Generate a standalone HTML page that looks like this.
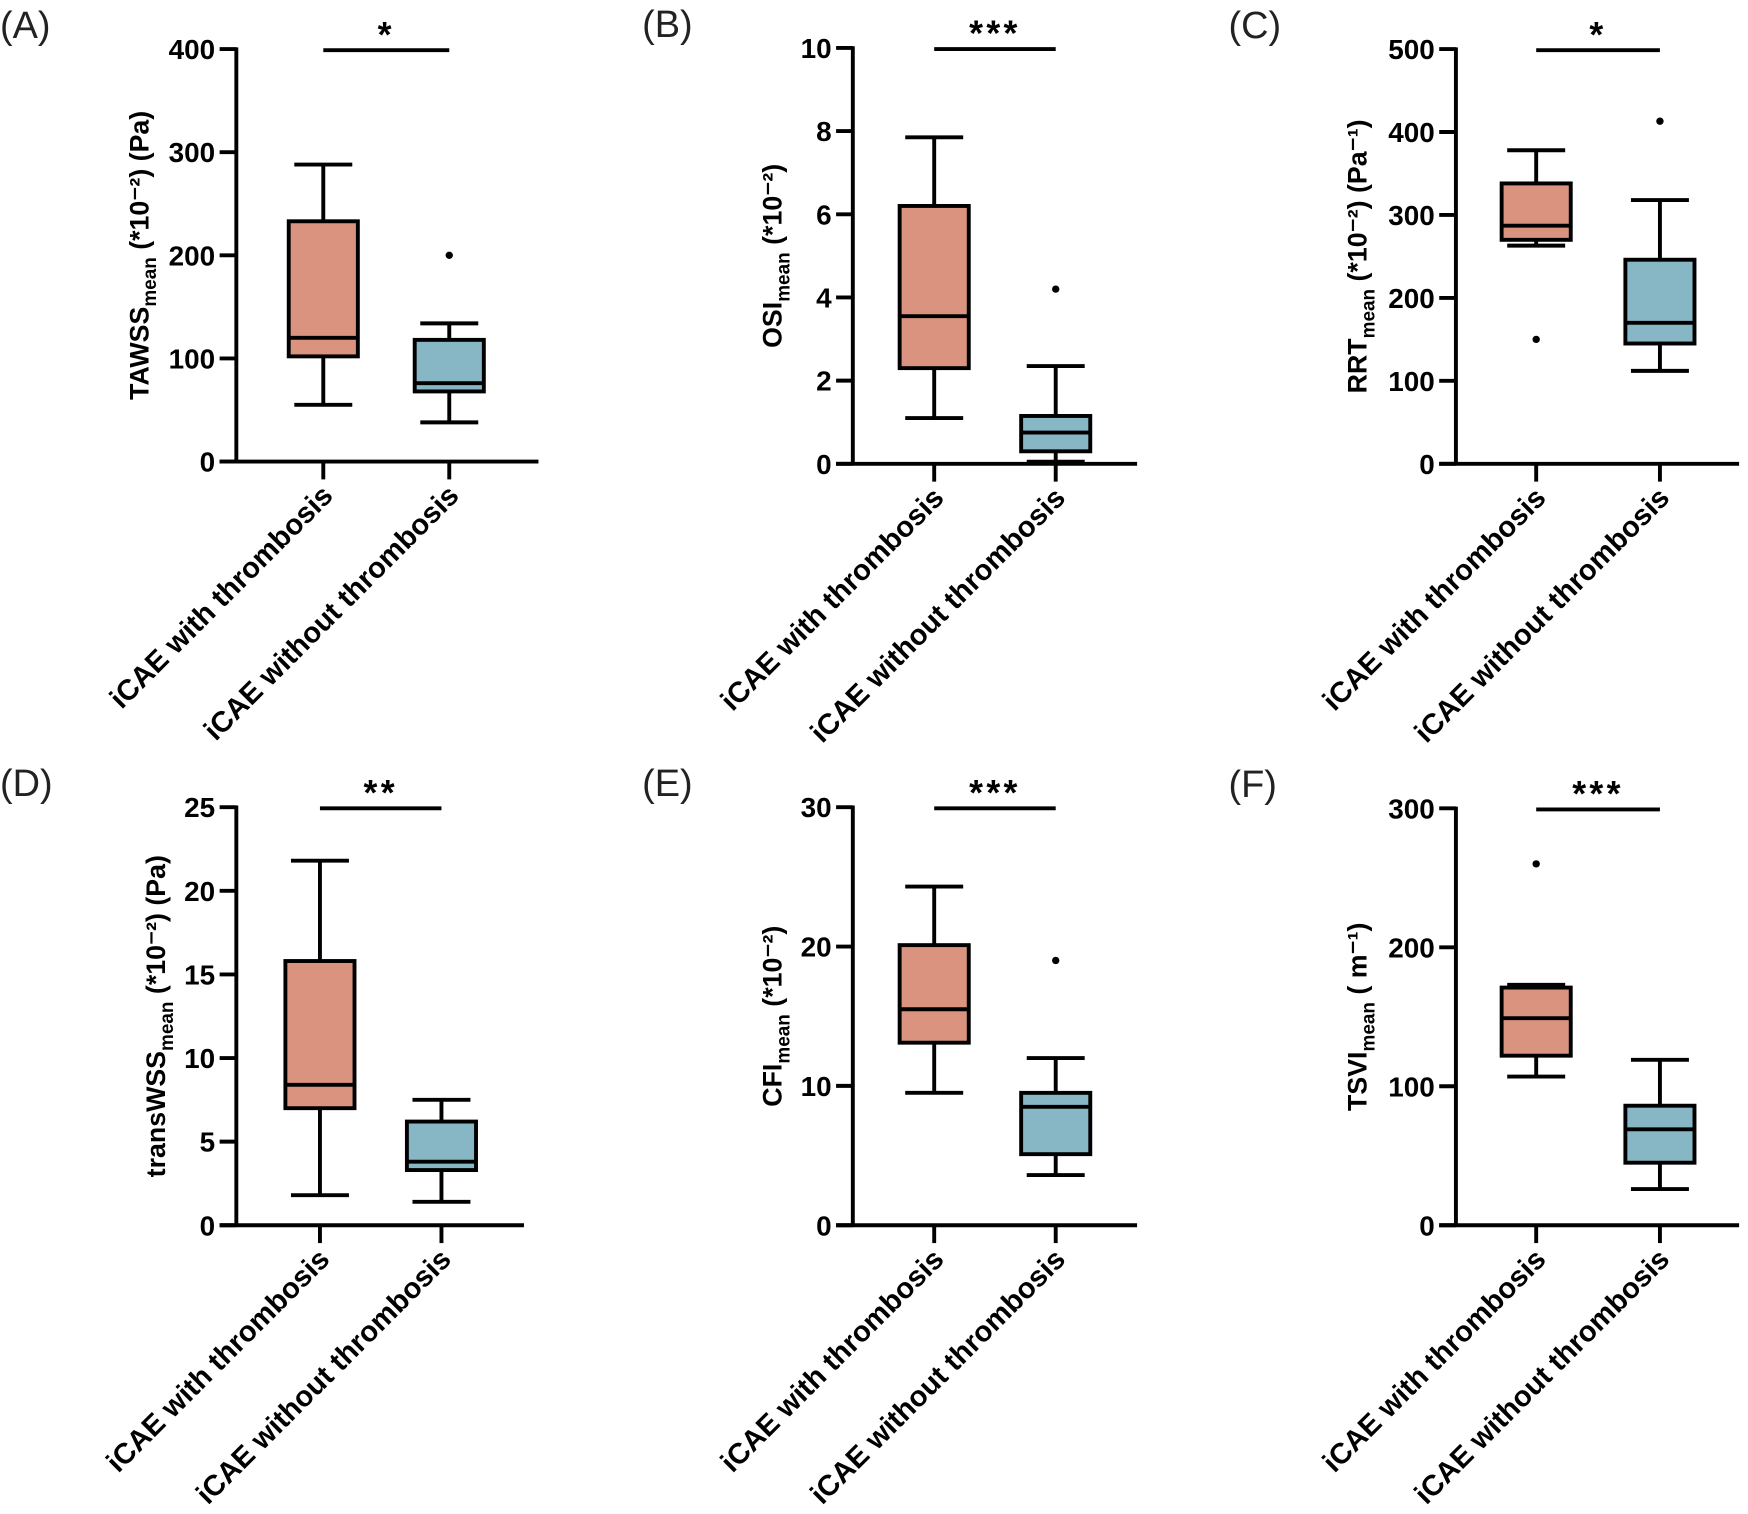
<!DOCTYPE html>
<html><head><meta charset="utf-8">
<style>
html,body{margin:0;padding:0;background:#fff;}
svg{display:block;}
text{font-family:"Liberation Sans",Arial,sans-serif;}
</style></head>
<body>
<svg id="fig" width="1748" height="1514" viewBox="0 0 1568 1358" preserveAspectRatio="none" xmlns="http://www.w3.org/2000/svg"></svg>
<script>
// ---- data ----
const categories = ["iCAE with thrombosis", "iCAE without thrombosis"];
const panelLetters = ["(A)","(B)","(C)","(D)","(E)","(F)"];
const yMax = [400, 10, 500, 25, 30, 300];
const yTicks = [[0,100,200,300,400],[0,2,4,6,8,10],[0,100,200,300,400,500],[0,5,10,15,20,25],[0,10,20,30],[0,100,200,300]];
const sigLabels = ["*","***","*","**","***","***"];
// [whiskerLow, q1, median, q3, whiskerHigh]
const withThrombosis = [[55,102,120,233,288],[1.1,2.3,3.55,6.2,7.85],[263,270,287,338,378],[1.8,7,8.4,15.8,21.8],[9.5,13.1,15.5,20.1,24.3],[107,122,149,171,173]];
const withoutThrombosis = [[38,68,76,118,134],[0.05,0.3,0.75,1.15,2.35],[112,145,170,246,318],[1.4,3.3,3.8,6.2,7.5],[3.6,5.1,8.5,9.5,12],[26,45,69,86,119]];
const outliersWith = [[],[],[150],[],[],[260]];
const outliersWithout = [[200],[4.2],[413],[],[19],[]];
const yLabelMain = ["TAWSS","OSI","RRT","transWSS","CFI","TSVI"];
const yLabelUnit = ["(*10⁻²) (Pa)","(*10⁻²)","(*10⁻²) (Pa⁻¹)","(*10⁻²) (Pa)","(*10⁻²)","( m⁻¹)"];

// ---- layout ----
const layout = [
 {ax:212, top:44, bot:414, xe:483, c:[290,403], lx:0, ylx:125},
 {ax:765, top:43, bot:416, xe:1020, c:[838,947], lx:576, ylx:693},
 {ax:1306, top:44, bot:416, xe:1560, c:[1378,1489], lx:1102, ylx:1218},
 {ax:212, top:724, bot:1099, xe:470, c:[287,396], lx:0, ylx:140},
 {ax:765, top:724, bot:1099, xe:1020, c:[838,947], lx:576, ylx:693},
 {ax:1306, top:725, bot:1099, xe:1560, c:[1378,1489], lx:1102, ylx:1218}
];
const svg = document.getElementById('fig');
const NS = "http://www.w3.org/2000/svg";
function mk(tag, attrs, parent){const e=document.createElementNS(NS,tag);for(const k in attrs)e.setAttribute(k,attrs[k]);(parent||svg).appendChild(e);return e;}
const colors = ["#D9937F","#87B6C5"];
const bw = 62;
const SW = 3.5;

for(let p=0;p<6;p++){
  const L = layout[p];
  const g = mk('g',{});
  
  
  const y = v => L.bot - (v/yMax[p])*(L.bot-L.top);
  const pl = mk('text',{x:L.lx, y:L.top-10, 'font-size':34, fill:'#222'}, g);
  pl.textContent = panelLetters[p];
  
  
  const ya = mk('line',{x1:L.ax,y1:L.top-1.5,x2:L.ax,y2:L.bot+1.5,stroke:'#000','stroke-width':SW}, g);
  
  
  const xa = mk('line',{x1:L.ax-15,y1:L.bot,x2:L.xe,y2:L.bot,stroke:'#000','stroke-width':SW}, g);
  
  
  yTicks[p].forEach(t=>{
    mk('line',{x1:L.ax-15,y1:y(t),x2:L.ax,y2:y(t),stroke:'#000','stroke-width':SW}, g);
    const tl = mk('text',{x:L.ax-19,y:y(t)+9,'font-size':25,'font-weight':'bold','text-anchor':'end'}, g);
    tl.textContent = t;
    
    
  });
  const yl = mk('text',{transform:`translate(${L.ylx+8},${(L.top+L.bot)/2}) rotate(-90)`,'font-size':24,'font-weight':'bold','text-anchor':'middle'}, g);
  
  
  const s1 = mk('tspan',{}, yl); s1.textContent = yLabelMain[p];
  const s2 = mk('tspan',{'font-size':17,dy:7}, yl); s2.textContent = 'mean';
  const s3 = mk('tspan',{dy:-7}, yl); s3.textContent = ' '+yLabelUnit[p];
  const sets = [withThrombosis[p], withoutThrombosis[p]];
  const outs = [outliersWith[p], outliersWithout[p]];
  for(let i=0;i<2;i++){
    const cx = L.c[i], d = sets[i];
    mk('line',{x1:cx,y1:L.bot,x2:cx,y2:L.bot+16,stroke:'#000','stroke-width':SW}, g);
    const bg = mk('g',{}, g);
    
    
    mk('line',{x1:cx,y1:y(d[0]),x2:cx,y2:y(d[1]),stroke:'#000','stroke-width':SW}, bg);
    mk('line',{x1:cx,y1:y(d[3]),x2:cx,y2:y(d[4]),stroke:'#000','stroke-width':SW}, bg);
    mk('line',{x1:cx-26,y1:y(d[0]),x2:cx+26,y2:y(d[0]),stroke:'#000','stroke-width':SW}, bg);
    mk('line',{x1:cx-26,y1:y(d[4]),x2:cx+26,y2:y(d[4]),stroke:'#000','stroke-width':SW}, bg);
    mk('rect',{x:cx-bw/2,y:y(d[3]),width:bw,height:y(d[1])-y(d[3]),fill:colors[i],stroke:'#000','stroke-width':SW}, bg);
    mk('line',{x1:cx-bw/2,y1:y(d[2]),x2:cx+bw/2,y2:y(d[2]),stroke:'#000','stroke-width':SW}, bg);
    outs[i].forEach(o=>{
      const c = mk('circle',{cx:cx,cy:y(o),r:3.3,fill:'#000'}, g);
      
      
    });
    const cl = mk('text',{transform:`translate(${cx+10},${L.bot+32}) rotate(-45)`,'font-size':26,'font-weight':'bold','text-anchor':'end'}, g);
    cl.textContent = categories[i];
    
    
  }
  const sb = mk('line',{x1:L.c[0],y1:L.top+1,x2:L.c[1],y2:L.top+1,stroke:'#000','stroke-width':SW}, g);
  
  
  const st = mk('text',{x:(L.c[0]+L.c[1])/2,y:L.top-2,'font-size':32,'font-weight':'bold','text-anchor':'middle','letter-spacing':3}, g);
  st.textContent = sigLabels[p];
  
  
}
</script>
</body></html>
